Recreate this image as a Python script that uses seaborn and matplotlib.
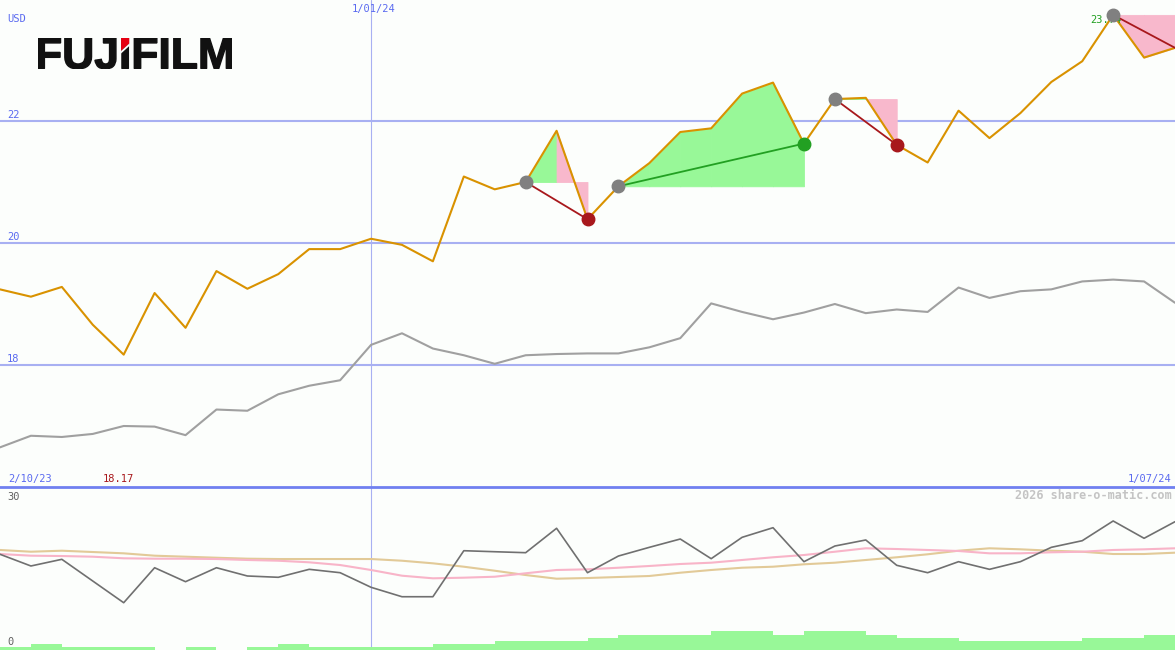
import numpy as np
import matplotlib
matplotlib.use("Agg")
import matplotlib.pyplot as plt
import seaborn as sns
from matplotlib.textpath import TextPath
from matplotlib.patches import PathPatch, Polygon
from matplotlib.font_manager import FontProperties

# ─── Data (weekly closes) ─────────────────────────────────
price = [19.24, 19.12, 19.28, 18.66, 18.17, 19.18, 18.61, 19.54, 19.25, 19.49,
         19.90, 19.90, 20.07, 19.97, 19.70, 21.09, 20.88, 21.00, 21.84, 20.39,
         20.93, 21.31, 21.82, 21.88, 22.45, 22.63, 21.63, 22.36, 22.38, 21.61,
         21.32, 22.17, 21.72, 22.13, 22.64, 22.98, 23.74, 23.04, 23.20]
index_line = [16.65, 16.84, 16.82, 16.87, 17.00, 16.99, 16.85, 17.27, 17.25, 17.52,
              17.66, 17.75, 18.33, 18.52, 18.27, 18.16, 18.02, 18.16, 18.18, 18.19,
              18.19, 18.29, 18.44, 19.01, 18.87, 18.75, 18.86, 19.00, 18.85, 18.91,
              18.87, 19.27, 19.10, 19.21, 19.24, 19.37, 19.40, 19.37, 19.02]
osc = [19.39, 16.97, 18.35, 13.86, 9.37, 16.61, 13.72, 16.61, 14.90, 14.63,
       16.28, 15.58, 12.56, 10.61, 10.61, 20.13, 19.92, 19.72, 24.77, 15.58,
       19.03, 20.83, 22.55, 18.48, 22.90, 24.89, 17.86, 21.10, 22.35, 17.11,
       15.58, 17.86, 16.28, 17.86, 20.83, 22.20, 26.28, 22.70, 26.13]
osc_pink = [19.45, 19.10, 19.03, 18.89, 18.56, 18.48, 18.48, 18.41, 18.21, 18.06,
            17.73, 17.17, 16.14, 14.96, 14.42, 14.55, 14.75, 15.46, 16.14, 16.28,
            16.61, 16.97, 17.38, 17.65, 18.21, 18.77, 19.24, 19.92, 20.63, 20.48,
            20.28, 20.07, 19.59, 19.59, 19.80, 19.92, 20.28, 20.42, 20.63]
osc_tan = [20.28, 19.92, 20.13, 19.86, 19.59, 19.10, 18.89, 18.68, 18.48, 18.41,
           18.41, 18.41, 18.41, 18.06, 17.52, 16.82, 15.99, 15.10, 14.34, 14.48,
           14.69, 14.90, 15.58, 16.14, 16.61, 16.82, 17.32, 17.65, 18.21, 18.77,
           19.39, 20.13, 20.63, 20.42, 20.13, 19.92, 19.45, 19.45, 19.72]
volume = [1, 2, 1, 1, 1, 0, 1, 0, 1, 2, 1, 1, 1, 1, 2, 2, 3, 3, 3, 4,
          5, 5, 5, 6.3, 6.3, 5, 6.3, 6.3, 5, 4, 4, 3, 3, 3, 3, 4, 4, 5]

date_labels = ["2/10/23", "1/01/24", "1/07/24"]
date_pos = [0, 12, 38]
price_levels = [18, 20, 22]
osc_levels = [0, 30]

trade_entry = [17, 20, 27, 36]
trade_exit = [19, 26, 29, 38]
trade_open = [False, False, False, True]

# ─── Style ────────────────────────────────────────────────
BG = "#fcfefc"
BLUE_TXT = "#5a6af0"
GRID = "#a8b0f2"
SEP = "#7080f0"
ORANGE = "#d99200"
GREY = "#a0a0a0"
DARKGREY = "#707070"
PINK = "#f8b4c8"
TAN = "#e2ca98"
FILL_G = "#98f898"
FILL_P = "#f8b8cc"
RED = "#a8181c"
GREEN = "#22a022"

sns.set_theme(style="white")
plt.rcParams["font.family"] = ["DejaVu Sans Mono", "DejaVu Sans"]
plt.rcParams["figure.facecolor"] = BG
plt.rcParams["axes.facecolor"] = BG

W, H = 1175, 650
fig = plt.figure(figsize=(W / 100, H / 100), dpi=100)

x = np.arange(len(price))

# ════════════════════════════════════════════════════════════
#  Oscillator / volume panel
# ════════════════════════════════════════════════════════════
ax2 = fig.add_axes([0, 0, 1, 163 / H])
ax2.set_xlim(0, len(price) - 1)
ax2.set_ylim(-0.41, 33.31)
for s in ax2.spines.values():
    s.set_visible(False)
ax2.set_xticks([])
ax2.set_yticks([])
ax2.axvline(date_pos[1], color=GRID, lw=0.8, zorder=1)

sns.lineplot(x=x, y=osc_tan, ax=ax2, color=TAN, lw=1.5, zorder=2)
sns.lineplot(x=x, y=osc_pink, ax=ax2, color=PINK, lw=1.5, zorder=3)
sns.lineplot(x=x, y=osc, ax=ax2, color=DARKGREY, lw=1.2, zorder=4)

for lv in osc_levels:
    ax2.annotate(str(lv), xy=(0, lv), xycoords=("axes fraction", "data"),
                 xytext=(7, 1), textcoords="offset pixels", ha="left", va="bottom",
                 fontsize=7.5, color="#606060")
ax2.annotate("2026 share-o-matic.com", xy=(1, osc_levels[1]),
             xycoords=("axes fraction", "data"), xytext=(-3, 1),
             textcoords="offset pixels", ha="right", va="bottom",
             fontsize=8.5, fontweight="bold", color="#c4c4c4")

axv = ax2.twinx()
axv.set_ylim(0, 163 / 3)
axv.set_yticks([])
for s in axv.spines.values():
    s.set_visible(False)
axv.bar(x[:-1], volume, width=1, align="edge", color=FILL_G, lw=0)

# ════════════════════════════════════════════════════════════
#  Price panel
# ════════════════════════════════════════════════════════════
ax = fig.add_axes([0, 163 / H, 1, 487 / H])
ax.set_zorder(5)
ax.set_xlim(0, len(price) - 1)
ax.set_ylim(16.0, 23.984)
for s in ["top", "left", "right"]:
    ax.spines[s].set_visible(False)
ax.spines["bottom"].set_color(SEP)
ax.spines["bottom"].set_linewidth(2.0)
ax.set_xticks([])
ax.set_yticks([])

for lv in price_levels:
    ax.axhline(lv, color=GRID, lw=1.5, zorder=1)
    ax.annotate(str(lv), xy=(0, lv), xycoords=("axes fraction", "data"),
                xytext=(7, 1), textcoords="offset pixels", ha="left", va="bottom",
                fontsize=7.5, color=BLUE_TXT)
ax.axvline(date_pos[1], color=GRID, lw=0.8, zorder=1)
ax.annotate("USD", xy=(0, 1), xycoords="axes fraction", xytext=(7, -24),
            textcoords="offset pixels", ha="left", va="bottom", fontsize=7.5, color=BLUE_TXT)

# trade fills: between the price and the entry level, coloured per segment
for e, q in zip(trade_entry, trade_exit):
    lvl = price[e]
    for k in range(e, q):
        col = FILL_G if price[k + 1] > lvl else FILL_P
        ax.fill_between(x[k:k + 2], price[k:k + 2], lvl, color=col,
                        ec=col, lw=0.6, zorder=2)

sns.lineplot(x=x, y=index_line, ax=ax, color=GREY, lw=1.5, zorder=3)
sns.lineplot(x=x, y=price, ax=ax, color=ORANGE, lw=1.5, zorder=4)

# trade lines and markers
for e, q, op in zip(trade_entry, trade_exit, trade_open):
    col = GREEN if price[q] > price[e] else RED
    ax.plot([x[e], x[q]], [price[e], price[q]], color=col, lw=1.3, zorder=5)
    ax.plot(x[e], price[e], "o", ms=9, color="#808080", zorder=7)
    if not op:
        ax.plot(x[q], price[q], "o", ms=9, color=col, zorder=7)

# min / max labels
imax = int(np.argmax(price))
imin = int(np.argmin(price))
ax.annotate(f"{price[imax]:.2f}", xy=(x[imax], price[imax]), xytext=(8, -5),
            textcoords="offset pixels", ha="right", va="center",
            fontsize=7.5, color=GREEN, zorder=6)
ax.annotate(f"{price[imin]:.2f}", xy=(x[imin], 16.0), xytext=(-5, 3),
            textcoords="offset pixels", ha="center", va="bottom",
            fontsize=7.5, color=RED)

# date labels
ax.annotate(date_labels[0], xy=(x[date_pos[0]], 16.0), xytext=(8, 3),
            textcoords="offset pixels", ha="left", va="bottom", fontsize=7.5, color=BLUE_TXT)
ax.annotate(date_labels[2], xy=(x[date_pos[2]], 16.0), xytext=(-4, 3),
            textcoords="offset pixels", ha="right", va="bottom", fontsize=7.5, color=BLUE_TXT)
ax.annotate(date_labels[1], xy=(x[date_pos[1]], 1), xycoords=("data", "axes fraction"),
            xytext=(3, -4), textcoords="offset pixels", ha="center", va="top",
            fontsize=7.5, color=BLUE_TXT)

# ─── Logo ─────────────────────────────────────────────────
fp = FontProperties(family="Liberation Sans", weight="bold")
lax = fig.add_axes([38 / W, 1 - 69 / H, 194 / W, 31 / H])
lax.set_zorder(6)
lax.axis("off")
word = TextPath((0, 0), "FUJIFILM", size=1, prop=fp)
lax.add_patch(PathPatch(word, fc="#111111", ec="#111111", lw=1.0))
ext = word.get_extents()
i_x1 = TextPath((0, 0), "FUJI", size=1, prop=fp).get_extents().x1
i_w = TextPath((0, 0), "I", size=1, prop=fp).get_extents().width
i_x0 = i_x1 - i_w
h = ext.y1 - ext.y0
pad = 0.02
lax.add_patch(Polygon([[i_x0 - pad, ext.y1 + pad], [i_x1 + pad, ext.y1 + pad],
                       [i_x1 + pad, ext.y1 - 0.18 * h], [i_x0 - pad, ext.y1 - 0.42 * h]],
                      fc="#e60012", ec="none"))
lax.add_patch(Polygon([[i_x0 - pad, ext.y1 - 0.42 * h], [i_x1 + pad, ext.y1 - 0.18 * h],
                       [i_x1 + pad, ext.y1 - 0.26 * h], [i_x0 - pad, ext.y1 - 0.50 * h]],
                      fc=BG, ec="none"))
lax.set_xlim(ext.x0, ext.x1)
lax.set_ylim(ext.y0, ext.y1)

fig.savefig("out.png", dpi=100, facecolor=BG)
